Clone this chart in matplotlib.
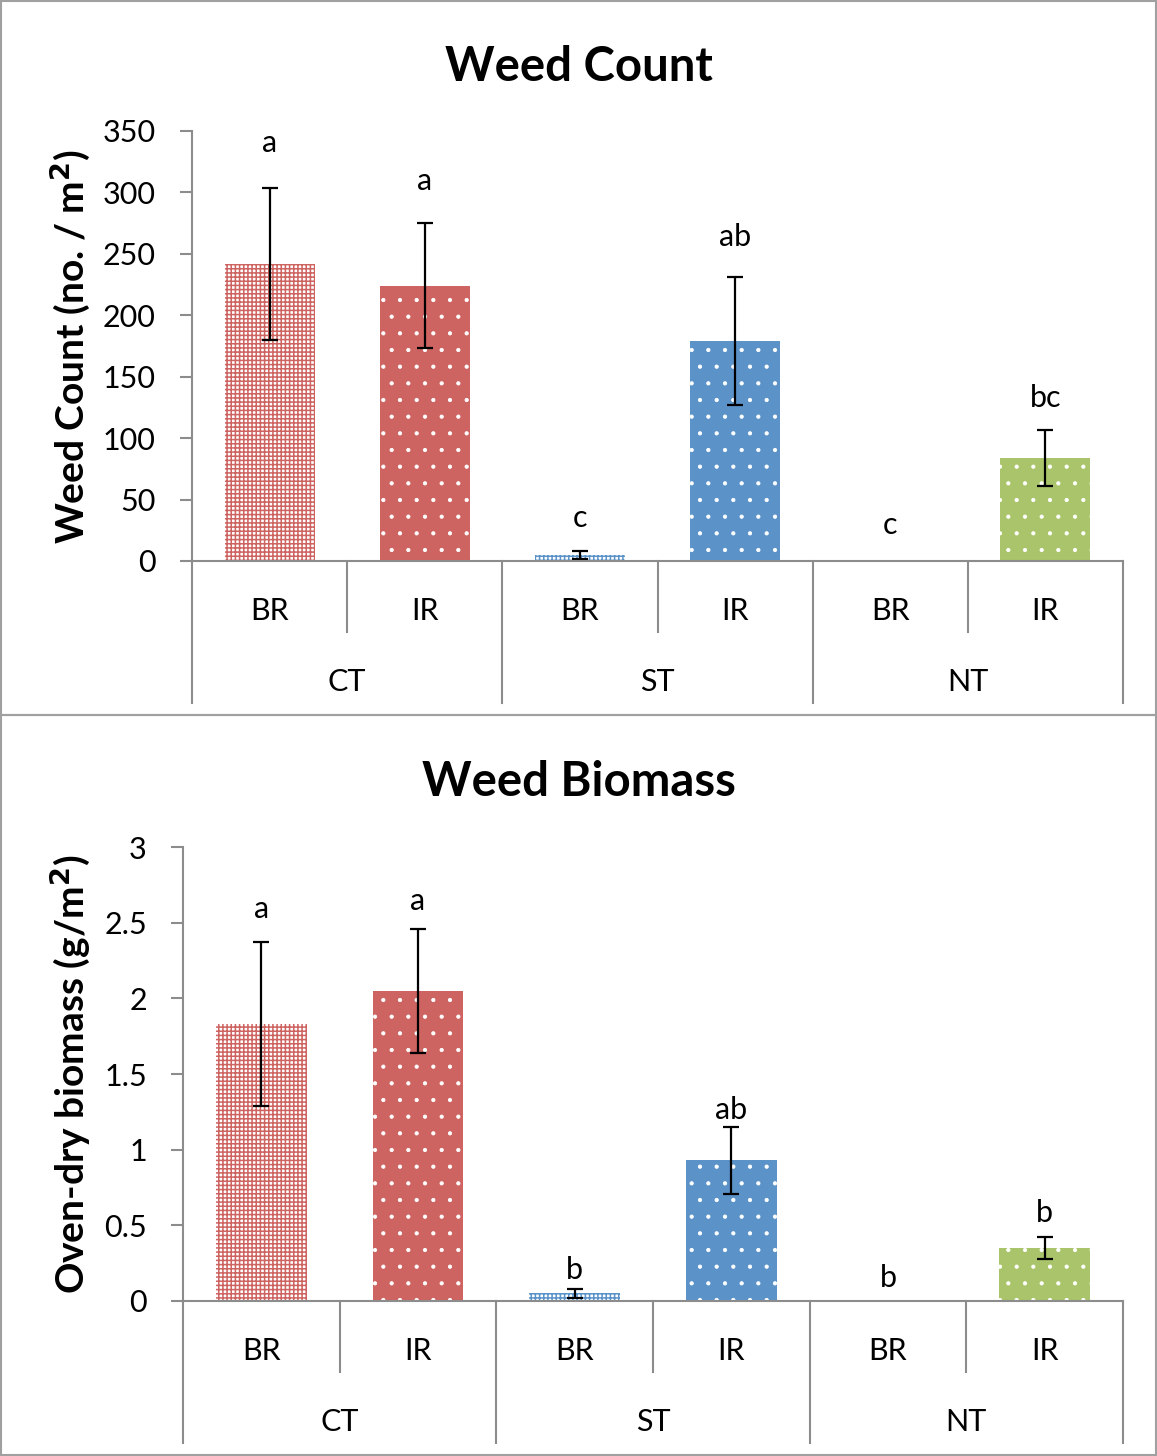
import numpy as np
import matplotlib.pyplot as plt
from matplotlib.patches import Rectangle

plt.rcParams['font.family'] = ['Lato', 'DejaVu Sans']

tillage = ['CT', 'ST', 'NT']
residue = ['BR', 'IR', 'BR', 'IR', 'BR', 'IR']

count_vals = [242, 224, 5, 179, 0, 84]
count_err = [62, 51, 3, 52, 0, 23]
count_letters = ['a', 'a', 'c', 'ab', 'c', 'bc']
count_letter_y = [340, 309, 35, 264, 29, 133]

bio_vals = [1.83, 2.05, 0.05, 0.93, 0.0, 0.35]
bio_err = [0.54, 0.41, 0.03, 0.22, 0.0, 0.07]
bio_letters = ['a', 'a', 'b', 'ab', 'b', 'b']
bio_letter_y = [2.59, 2.64, 0.205, 1.26, 0.152, 0.58]

colors = ['#CD6461', '#CD6461', '#5B93C9', '#5B93C9', '#A9C46A', '#A9C46A']
gray = '#8C8C8C'
FS = 22

W, H = 1157, 1456
fig = plt.figure(figsize=(W / 100, H / 100), dpi=100)

# panel frames
fig.patches.append(Rectangle((1 / W, 1 - 715 / H), 1 - 2 / W, 714 / H, transform=fig.transFigure,
                             fill=False, edgecolor='#A0A0A0', lw=1.5))
fig.patches.append(Rectangle((1 / W, 1 / H), 1 - 2 / W, 1 - 715 / H - 1 / H, transform=fig.transFigure,
                             fill=False, edgecolor='#A0A0A0', lw=1.5))


def draw_bar(ax, xi, v, c, kind):
    if kind == 'BR':
        # fine checker: coloured grid on white
        with plt.rc_context({'hatch.linewidth': 1.1}):
            b = ax.bar(xi, v, width=0.58, color='white', edgecolor=c, lw=0, hatch='++++')
            if hasattr(b[0], 'set_hatch_linewidth'):
                b[0].set_hatch_linewidth(1.1)
    else:
        # sparse white dots on colour
        with plt.rc_context({'hatch.linewidth': 0.6}):
            b = ax.bar(xi, v, width=0.58, color=c, edgecolor='white', lw=0, hatch='.')
            if hasattr(b[0], 'set_hatch_linewidth'):
                b[0].set_hatch_linewidth(0.6)


def panel(left, right, top, bottom, vals, errs, letters, letter_y, ymax, step, title, title_y, ylabel):
    ax = fig.add_axes([left / W, 1 - bottom / H, (right - left) / W, (bottom - top) / H])
    x = np.arange(len(vals))
    for i in range(len(vals)):
        if vals[i] > 0:
            draw_bar(ax, x[i], vals[i], colors[i], residue[i])
            ax.errorbar(x[i], vals[i], yerr=errs[i], color='black', lw=1.6, capsize=6, capthick=1.6)
        ax.text(x[i], letter_y[i], letters[i], ha='center', va='center', fontsize=FS)
    ax.set_xlim(-0.5, len(vals) - 0.5)
    ax.set_ylim(0, ymax)
    ticks = np.arange(0, ymax + step / 2, step)
    ax.set_yticks(ticks)
    ax.set_yticklabels([f'{t:g}' for t in ticks], fontsize=FS)
    ax.tick_params(axis='y', length=9, width=1.5, color=gray, pad=17)
    ax.set_xticks([])
    for s in ['top', 'right']:
        ax.spines[s].set_visible(False)
    for s in ['left', 'bottom']:
        ax.spines[s].set_color(gray)
        ax.spines[s].set_linewidth(1.5)
    ax.patch.set_alpha(0)

    hpx = bottom - top
    tr = ax.get_xaxis_transform()
    # two-level category axis
    for i, lab in enumerate(residue):
        ax.text(x[i], -50 / hpx, lab, transform=tr, ha='center', va='center', fontsize=FS)
    for j, lab in enumerate(tillage):
        ax.text(2 * j + 0.5, -121 / hpx, lab, transform=tr, ha='center', va='center', fontsize=FS)
    for b in np.arange(-0.5, len(vals), 1.0):
        depth = 142 if (b + 0.5) % 2 == 0 else 71
        ax.plot([b, b], [0, -depth / hpx], transform=tr, color=gray, lw=1.5, clip_on=False)

    fig.text(0.5, 1 - title_y / H, title, ha='center', va='center', fontsize=34, fontweight='bold')
    fig.text(70 / W, 1 - (top + bottom) / 2 / H, ylabel, rotation=90, ha='center', va='center',
             fontsize=28, fontweight='bold')
    return ax


panel(192, 1123, 131, 561, count_vals, count_err, count_letters, count_letter_y, 350, 50,
      'Weed Count', 67, 'Weed Count (no. / m$^\\mathbf{2}$)')
panel(183, 1123, 847, 1301, bio_vals, bio_err, bio_letters, bio_letter_y, 3, 0.5,
      'Weed Biomass', 782, 'Oven-dry biomass (g/m$^\\mathbf{2}$)')

fig.savefig('out.png', dpi=100)
